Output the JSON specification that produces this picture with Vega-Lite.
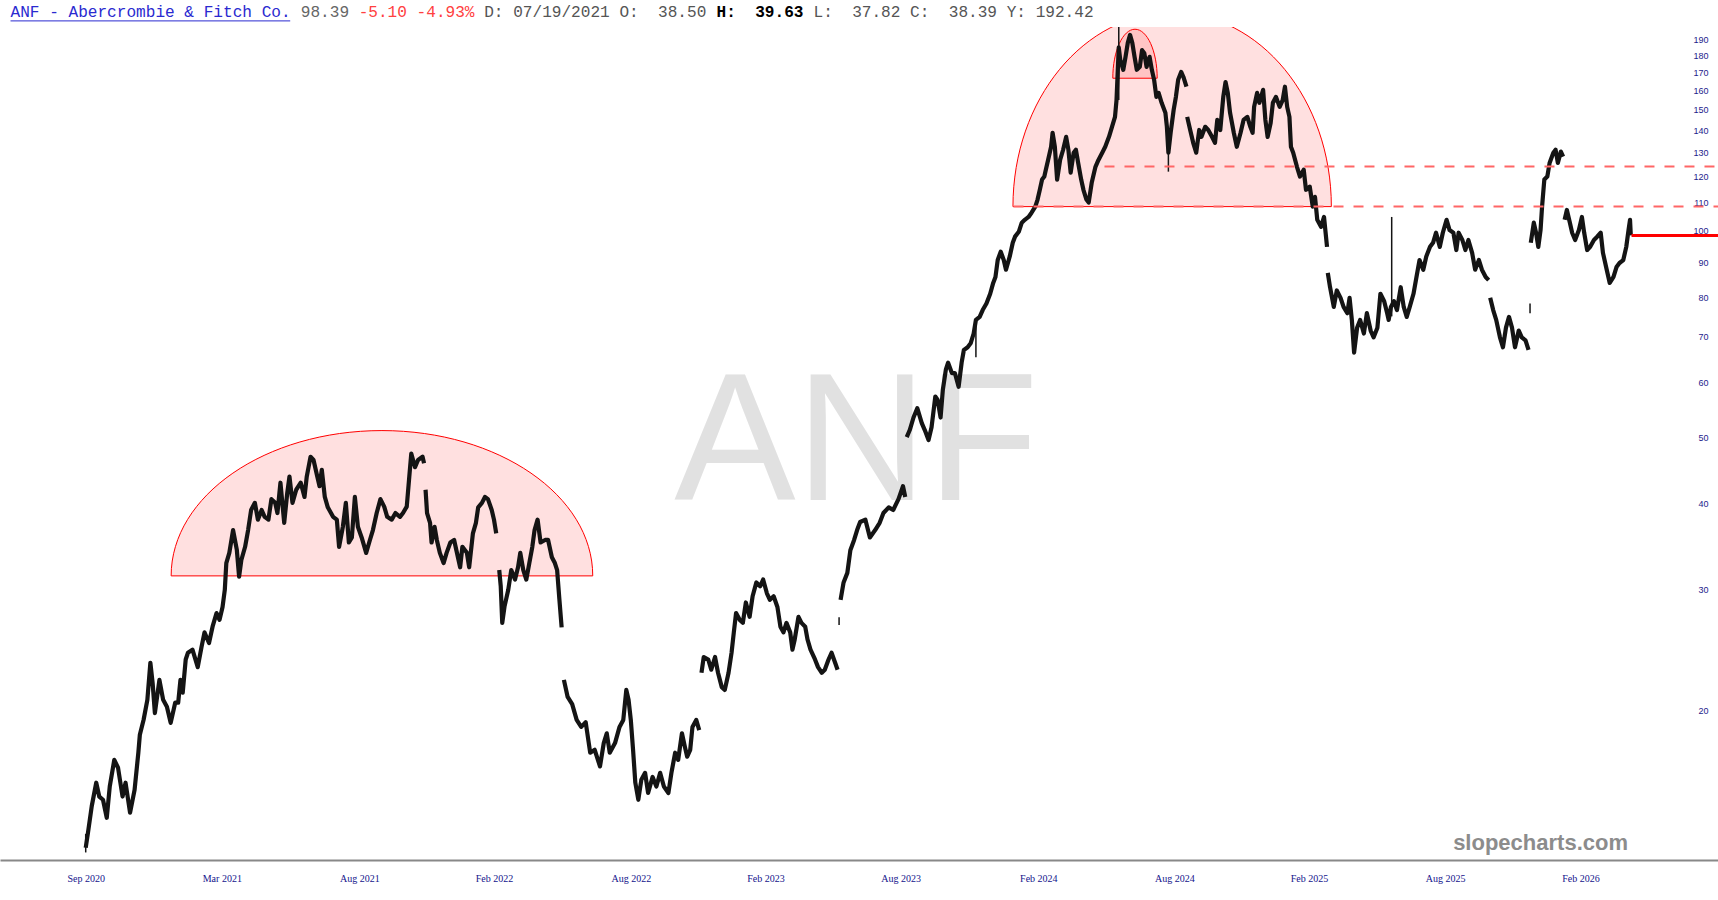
{
  "$schema": "https://vega.github.io/schema/vega-lite/v6.json",
  "width": 1718,
  "height": 833,
  "autosize": {"type": "none"},
  "padding": {"top": 27, "left": 0, "right": 0, "bottom": 40},
  "background": "white",
  "config": {"view": {"stroke": null}, "axis": {"grid": false}},
  "datasets": {
    "px": [
      {"d":"2020-09-01","p":12.6,"g":1},{"d":"2020-09-04","p":13.25,"g":1},{"d":"2020-09-09","p":14.48,"g":1},{"d":"2020-09-15","p":15.67,"g":1},{"d":"2020-09-19","p":14.96,"g":1},{"d":"2020-09-24","p":14.8,"g":1},{"d":"2020-09-29","p":13.93,"g":1},{"d":"2020-10-03","p":15.48,"g":1},{"d":"2020-10-09","p":16.92,"g":1},{"d":"2020-10-14","p":16.48,"g":1},{"d":"2020-10-20","p":14.96,"g":1},{"d":"2020-10-24","p":15.67,"g":1},{"d":"2020-10-30","p":14.17,"g":1},{"d":"2020-11-05","p":15.3,"g":1},{"d":"2020-11-10","p":17.33,"g":1},{"d":"2020-11-12","p":18.41,"g":1},{"d":"2020-11-17","p":19.36,"g":1},{"d":"2020-11-22","p":20.7,"g":1},{"d":"2020-11-26","p":23.44,"g":1},{"d":"2020-11-29","p":21.9,"g":1},{"d":"2020-12-02","p":19.8,"g":1},{"d":"2020-12-08","p":22.13,"g":1},{"d":"2020-12-13","p":20.7,"g":1},{"d":"2020-12-18","p":20.22,"g":1},{"d":"2020-12-23","p":19.16,"g":1},{"d":"2020-12-29","p":20.5,"g":1},
      {"d":"2021-01-02","p":20.5,"g":1},{"d":"2021-01-05","p":22.13,"g":1},{"d":"2021-01-08","p":21.2,"g":1},{"d":"2021-01-12","p":23.7,"g":1},{"d":"2021-01-15","p":24.24,"g":1},{"d":"2021-01-21","p":24.5,"g":1},{"d":"2021-01-28","p":23.1,"g":1},{"d":"2021-02-02","p":24.7,"g":1},{"d":"2021-02-06","p":25.96,"g":1},{"d":"2021-02-12","p":25.05,"g":1},{"d":"2021-02-17","p":26.54,"g":1},{"d":"2021-02-22","p":27.7,"g":1},{"d":"2021-02-26","p":27.07,"g":1},{"d":"2021-03-02","p":28.27,"g":1},{"d":"2021-03-05","p":29.95,"g":1},{"d":"2021-03-07","p":32.76,"g":1},{"d":"2021-03-11","p":33.9,"g":1},{"d":"2021-03-16","p":36.6,"g":1},{"d":"2021-03-21","p":34.23,"g":1},{"d":"2021-03-24","p":31.3,"g":1},{"d":"2021-03-27","p":33.1,"g":1},{"d":"2021-04-01","p":34.6,"g":1},{"d":"2021-04-05","p":36.6,"g":1},{"d":"2021-04-09","p":39.15,"g":1},{"d":"2021-04-14","p":40.1,"g":1},{"d":"2021-04-18","p":37.9,"g":1},{"d":"2021-04-23","p":39.15,"g":1},{"d":"2021-04-27","p":38.26,"g":1},{"d":"2021-05-02","p":37.9,"g":1},{"d":"2021-05-06","p":40.6,"g":1},{"d":"2021-05-11","p":40.1,"g":1},{"d":"2021-05-14","p":38.75,"g":1},{"d":"2021-05-18","p":42.9,"g":1},{"d":"2021-05-23","p":37.5,"g":1},{"d":"2021-05-27","p":41.4,"g":1},{"d":"2021-05-30","p":43.8,"g":1},{"d":"2021-06-03","p":40.1,"g":1},{"d":"2021-06-08","p":41.9,"g":1},{"d":"2021-06-14","p":42.9,"g":1},{"d":"2021-06-19","p":40.9,"g":1},{"d":"2021-06-22","p":43.8,"g":1},{"d":"2021-06-27","p":46.8,"g":1},{"d":"2021-07-01","p":46.3,"g":1},{"d":"2021-07-06","p":43.8,"g":1},{"d":"2021-07-09","p":42.4,"g":1},{"d":"2021-07-12","p":44.8,"g":1},{"d":"2021-07-16","p":40.9,"g":1},{"d":"2021-07-20","p":39.5,"g":1},{"d":"2021-07-27","p":38.26,"g":1},{"d":"2021-08-01","p":37.9,"g":1},{"d":"2021-08-04","p":34.6,"g":1},{"d":"2021-08-09","p":37.0,"g":1},{"d":"2021-08-13","p":40.1,"g":1},{"d":"2021-08-17","p":35.1,"g":1},{"d":"2021-08-21","p":35.7,"g":1},{"d":"2021-08-25","p":40.9,"g":1},{"d":"2021-08-29","p":37.0,"g":1},{"d":"2021-09-03","p":35.7,"g":1},{"d":"2021-09-09","p":33.9,"g":1},{"d":"2021-09-14","p":35.4,"g":1},{"d":"2021-09-18","p":36.6,"g":1},{"d":"2021-09-23","p":38.75,"g":1},{"d":"2021-09-28","p":40.6,"g":1},{"d":"2021-10-03","p":39.6,"g":1},{"d":"2021-10-07","p":38.26,"g":1},{"d":"2021-10-13","p":37.9,"g":1},{"d":"2021-10-18","p":38.75,"g":1},{"d":"2021-10-24","p":38.26,"g":1},{"d":"2021-10-28","p":38.75,"g":1},{"d":"2021-11-02","p":39.6,"g":1},{"d":"2021-11-05","p":43.3,"g":1},{"d":"2021-11-08","p":47.3,"g":1},{"d":"2021-11-13","p":45.2,"g":1},{"d":"2021-11-17","p":46.3,"g":1},{"d":"2021-11-23","p":46.8,"g":1},{"d":"2021-11-25","p":45.8,"g":1},
      {"d":"2021-11-27","p":41.9,"g":2},{"d":"2021-11-29","p":38.75,"g":2},{"d":"2021-12-03","p":37.5,"g":2},{"d":"2021-12-05","p":35.1,"g":2},{"d":"2021-12-09","p":37.0,"g":2},{"d":"2021-12-12","p":35.4,"g":2},{"d":"2021-12-16","p":33.9,"g":2},{"d":"2021-12-21","p":32.76,"g":2},{"d":"2021-12-25","p":33.9,"g":2},{"d":"2021-12-30","p":35.1,"g":2},{"d":"2022-01-04","p":35.4,"g":2},{"d":"2022-01-07","p":34.2,"g":2},{"d":"2022-01-12","p":32.3,"g":2},{"d":"2022-01-15","p":34.6,"g":2},{"d":"2022-01-21","p":33.9,"g":2},{"d":"2022-01-24","p":32.3,"g":2},{"d":"2022-01-29","p":36.2,"g":2},{"d":"2022-02-02","p":37.5,"g":2},{"d":"2022-02-05","p":39.5,"g":2},{"d":"2022-02-10","p":40.1,"g":2},{"d":"2022-02-14","p":40.9,"g":2},{"d":"2022-02-18","p":40.6,"g":2},{"d":"2022-02-23","p":39.15,"g":2},{"d":"2022-02-26","p":37.9,"g":2},{"d":"2022-03-01","p":36.2,"g":2},
      {"d":"2022-03-05","p":32.0,"g":3},{"d":"2022-03-07","p":30.3,"g":3},{"d":"2022-03-09","p":26.8,"g":3},{"d":"2022-03-12","p":28.3,"g":3},{"d":"2022-03-17","p":29.95,"g":3},{"d":"2022-03-21","p":32.0,"g":3},{"d":"2022-03-26","p":31.0,"g":3},{"d":"2022-03-30","p":32.3,"g":3},{"d":"2022-04-02","p":33.9,"g":3},{"d":"2022-04-06","p":32.0,"g":3},{"d":"2022-04-10","p":31.0,"g":3},{"d":"2022-04-14","p":32.76,"g":3},{"d":"2022-04-18","p":34.6,"g":3},{"d":"2022-04-21","p":36.6,"g":3},{"d":"2022-04-25","p":37.9,"g":3},{"d":"2022-04-29","p":35.1,"g":3},{"d":"2022-05-05","p":35.4,"g":3},{"d":"2022-05-09","p":35.4,"g":3},{"d":"2022-05-14","p":33.4,"g":3},{"d":"2022-05-18","p":32.76,"g":3},{"d":"2022-05-21","p":32.0,"g":3},{"d":"2022-05-24","p":29.0,"g":3},{"d":"2022-05-27","p":26.4,"g":3},
      {"d":"2022-05-30","p":22.13,"g":4},{"d":"2022-06-04","p":20.9,"g":4},{"d":"2022-06-10","p":20.4,"g":4},{"d":"2022-06-16","p":19.35,"g":4},{"d":"2022-06-22","p":18.9,"g":4},{"d":"2022-06-28","p":19.2,"g":4},{"d":"2022-07-04","p":17.33,"g":4},{"d":"2022-07-10","p":17.5,"g":4},{"d":"2022-07-17","p":16.55,"g":4},{"d":"2022-07-22","p":17.9,"g":4},{"d":"2022-07-26","p":18.5,"g":4},{"d":"2022-07-30","p":17.33,"g":4},{"d":"2022-08-06","p":17.9,"g":4},{"d":"2022-08-12","p":18.9,"g":4},{"d":"2022-08-17","p":19.35,"g":4},{"d":"2022-08-21","p":21.4,"g":4},{"d":"2022-08-24","p":20.7,"g":4},{"d":"2022-08-27","p":19.35,"g":4},{"d":"2022-08-30","p":17.5,"g":4},{"d":"2022-09-02","p":15.67,"g":4},{"d":"2022-09-06","p":14.8,"g":4},{"d":"2022-09-10","p":15.83,"g":4},{"d":"2022-09-15","p":16.2,"g":4},{"d":"2022-09-19","p":15.14,"g":4},{"d":"2022-09-25","p":15.98,"g":4},{"d":"2022-09-30","p":15.47,"g":4},{"d":"2022-10-05","p":16.2,"g":4},{"d":"2022-10-10","p":15.47,"g":4},{"d":"2022-10-16","p":15.14,"g":4},{"d":"2022-10-20","p":16.2,"g":4},{"d":"2022-10-25","p":17.33,"g":4},{"d":"2022-10-29","p":16.92,"g":4},{"d":"2022-11-03","p":18.5,"g":4},{"d":"2022-11-07","p":17.66,"g":4},{"d":"2022-11-10","p":17.1,"g":4},{"d":"2022-11-14","p":17.5,"g":4},{"d":"2022-11-17","p":18.9,"g":4},{"d":"2022-11-22","p":19.35,"g":4},{"d":"2022-11-26","p":18.7,"g":4},
      {"d":"2022-11-29","p":22.67,"g":5},{"d":"2022-12-02","p":23.9,"g":5},{"d":"2022-12-08","p":23.7,"g":5},{"d":"2022-12-12","p":22.9,"g":5},{"d":"2022-12-17","p":23.9,"g":5},{"d":"2022-12-21","p":22.67,"g":5},{"d":"2022-12-26","p":21.6,"g":5},{"d":"2022-12-30","p":21.4,"g":5},{"d":"2023-01-04","p":22.67,"g":5},{"d":"2023-01-08","p":24.24,"g":5},{"d":"2023-01-11","p":25.96,"g":5},{"d":"2023-01-14","p":27.7,"g":5},{"d":"2023-01-19","p":27.07,"g":5},{"d":"2023-01-23","p":26.8,"g":5},{"d":"2023-01-27","p":28.7,"g":5},{"d":"2023-02-01","p":27.35,"g":5},{"d":"2023-02-05","p":29.3,"g":5},{"d":"2023-02-10","p":30.7,"g":5},{"d":"2023-02-15","p":30.3,"g":5},{"d":"2023-02-19","p":31.0,"g":5},{"d":"2023-02-24","p":29.6,"g":5},{"d":"2023-02-28","p":28.96,"g":5},{"d":"2023-03-05","p":29.3,"g":5},{"d":"2023-03-10","p":28.27,"g":5},{"d":"2023-03-14","p":26.45,"g":5},{"d":"2023-03-18","p":25.96,"g":5},{"d":"2023-03-22","p":26.8,"g":5},{"d":"2023-03-27","p":25.96,"g":5},{"d":"2023-03-30","p":24.5,"g":5},{"d":"2023-04-02","p":25.35,"g":5},{"d":"2023-04-07","p":27.35,"g":5},{"d":"2023-04-11","p":26.8,"g":5},{"d":"2023-04-16","p":26.45,"g":5},{"d":"2023-04-19","p":25.35,"g":5},{"d":"2023-04-23","p":24.5,"g":5},{"d":"2023-04-29","p":23.7,"g":5},{"d":"2023-05-03","p":23.1,"g":5},{"d":"2023-05-08","p":22.67,"g":5},{"d":"2023-05-12","p":22.9,"g":5},{"d":"2023-05-17","p":23.7,"g":5},{"d":"2023-05-21","p":24.24,"g":5},{"d":"2023-05-26","p":23.4,"g":5},{"d":"2023-05-29","p":22.9,"g":5},
      {"d":"2023-06-02","p":28.96,"g":6},{"d":"2023-06-06","p":30.7,"g":6},{"d":"2023-06-11","p":31.7,"g":6},{"d":"2023-06-15","p":34.2,"g":6},{"d":"2023-06-20","p":35.4,"g":6},{"d":"2023-06-24","p":36.6,"g":6},{"d":"2023-06-28","p":37.6,"g":6},{"d":"2023-07-05","p":37.9,"g":6},{"d":"2023-07-11","p":35.7,"g":6},{"d":"2023-07-18","p":36.6,"g":6},{"d":"2023-07-24","p":37.5,"g":6},{"d":"2023-07-29","p":38.75,"g":6},{"d":"2023-08-05","p":39.5,"g":6},{"d":"2023-08-11","p":39.15,"g":6},{"d":"2023-08-18","p":40.6,"g":6},{"d":"2023-08-24","p":42.4,"g":6},{"d":"2023-08-27","p":40.9,"g":6},
      {"d":"2023-08-29","p":50.0,"g":7},{"d":"2023-09-02","p":51.2,"g":7},{"d":"2023-09-07","p":53.4,"g":7},{"d":"2023-09-12","p":55.1,"g":7},{"d":"2023-09-18","p":52.4,"g":7},{"d":"2023-09-22","p":51.2,"g":7},{"d":"2023-09-27","p":49.5,"g":7},{"d":"2023-10-01","p":51.7,"g":7},{"d":"2023-10-06","p":57.3,"g":7},{"d":"2023-10-09","p":56.7,"g":7},{"d":"2023-10-13","p":53.4,"g":7},{"d":"2023-10-16","p":58.6,"g":7},{"d":"2023-10-20","p":62.7,"g":7},{"d":"2023-10-23","p":64.2,"g":7},{"d":"2023-10-28","p":62.0,"g":7},{"d":"2023-11-01","p":62.0,"g":7},{"d":"2023-11-06","p":59.2,"g":7},{"d":"2023-11-10","p":64.2,"g":7},{"d":"2023-11-13","p":67.0,"g":7},{"d":"2023-11-18","p":67.6,"g":7},{"d":"2023-11-22","p":68.5,"g":7},{"d":"2023-11-26","p":70.8,"g":7},{"d":"2023-11-29","p":74.1,"g":7},{"d":"2023-12-04","p":74.85,"g":7},{"d":"2023-12-08","p":76.6,"g":7},{"d":"2023-12-13","p":78.3,"g":7},{"d":"2023-12-18","p":80.9,"g":7},{"d":"2023-12-22","p":83.9,"g":7},{"d":"2023-12-25","p":85.6,"g":7},{"d":"2023-12-28","p":90.6,"g":7},{"d":"2024-01-01","p":93.2,"g":7},{"d":"2024-01-05","p":90.6,"g":7},{"d":"2024-01-08","p":87.7,"g":7},{"d":"2024-01-13","p":91.7,"g":7},{"d":"2024-01-17","p":96.0,"g":7},{"d":"2024-01-20","p":98.0,"g":7},{"d":"2024-01-25","p":99.6,"g":7},{"d":"2024-01-29","p":102.7,"g":7},{"d":"2024-02-02","p":103.7,"g":7},{"d":"2024-02-07","p":104.7,"g":7},{"d":"2024-02-11","p":106.2,"g":7},{"d":"2024-02-16","p":108.4,"g":7},{"d":"2024-02-19","p":111.0,"g":7},{"d":"2024-02-22","p":114.7,"g":7},{"d":"2024-02-25","p":118.7,"g":7},{"d":"2024-02-28","p":119.9,"g":7},{"d":"2024-03-01","p":122.7,"g":7},{"d":"2024-03-04","p":126.8,"g":7},{"d":"2024-03-08","p":132.5,"g":7},{"d":"2024-03-10","p":138.9,"g":7},{"d":"2024-03-13","p":132.5,"g":7},{"d":"2024-03-16","p":118.7,"g":7},{"d":"2024-03-20","p":126.8,"g":7},{"d":"2024-03-24","p":131.2,"g":7},{"d":"2024-03-28","p":137.0,"g":7},{"d":"2024-03-31","p":131.2,"g":7},{"d":"2024-04-03","p":121.5,"g":7},{"d":"2024-04-07","p":129.9,"g":7},{"d":"2024-04-10","p":131.2,"g":7},{"d":"2024-04-13","p":125.5,"g":7},{"d":"2024-04-17","p":118.7,"g":7},{"d":"2024-04-20","p":114.7,"g":7},{"d":"2024-04-24","p":111.0,"g":7},{"d":"2024-04-27","p":109.9,"g":7},{"d":"2024-05-01","p":117.4,"g":7},{"d":"2024-05-06","p":123.9,"g":7},{"d":"2024-05-10","p":126.8,"g":7},{"d":"2024-05-15","p":129.9,"g":7},{"d":"2024-05-19","p":132.5,"g":7},{"d":"2024-05-24","p":137.0,"g":7},{"d":"2024-05-28","p":141.7,"g":7},{"d":"2024-06-01","p":146.5,"g":7},{"d":"2024-06-03","p":155.0,"g":7},{"d":"2024-06-06","p":185,"g":7},{"d":"2024-06-08","p":177.4,"g":7},{"d":"2024-06-12","p":171.6,"g":7},{"d":"2024-06-15","p":179.2,"g":7},{"d":"2024-06-18","p":187.8,"g":7},{"d":"2024-06-21","p":192.9,"g":7},{"d":"2024-06-24","p":187.8,"g":7},{"d":"2024-06-27","p":179.2,"g":7},{"d":"2024-06-30","p":171.6,"g":7},{"d":"2024-07-04","p":173.3,"g":7},{"d":"2024-07-07","p":183.3,"g":7},{"d":"2024-07-10","p":181.4,"g":7},{"d":"2024-07-13","p":173.3,"g":7},{"d":"2024-07-17","p":179.2,"g":7},{"d":"2024-07-20","p":171.6,"g":7},{"d":"2024-07-23","p":165.9,"g":7},{"d":"2024-07-26","p":156.7,"g":7},{"d":"2024-07-29","p":158.8,"g":7},{"d":"2024-08-02","p":153.6,"g":7},{"d":"2024-08-07","p":148.6,"g":7},{"d":"2024-08-09","p":141.7,"g":7},{"d":"2024-08-11","p":129.9,"g":7},{"d":"2024-08-14","p":138.9,"g":7},{"d":"2024-08-18","p":150.0,"g":7},{"d":"2024-08-21","p":156.7,"g":7},{"d":"2024-08-24","p":165.9,"g":7},{"d":"2024-08-28","p":170.4,"g":7},{"d":"2024-08-31","p":167.5,"g":7},{"d":"2024-09-04","p":162.1,"g":7},
      {"d":"2024-09-05","p":146.5,"g":8},{"d":"2024-09-09","p":140.2,"g":8},{"d":"2024-09-13","p":134.3,"g":8},{"d":"2024-09-17","p":129.9,"g":8},{"d":"2024-09-21","p":140.2,"g":8},{"d":"2024-09-24","p":137.0,"g":8},{"d":"2024-09-29","p":141.7,"g":8},{"d":"2024-10-03","p":140.2,"g":8},{"d":"2024-10-08","p":137.0,"g":8},{"d":"2024-10-12","p":134.3,"g":8},{"d":"2024-10-15","p":145.0,"g":8},{"d":"2024-10-19","p":140.2,"g":8},{"d":"2024-10-23","p":156.7,"g":8},{"d":"2024-10-26","p":164.7,"g":8},{"d":"2024-10-29","p":158.8,"g":8},{"d":"2024-11-01","p":148.6,"g":8},{"d":"2024-11-06","p":138.9,"g":8},{"d":"2024-11-10","p":132.5,"g":8},{"d":"2024-11-15","p":138.9,"g":8},{"d":"2024-11-19","p":145.0,"g":8},{"d":"2024-11-24","p":146.5,"g":8},{"d":"2024-11-28","p":141.7,"g":8},{"d":"2024-12-01","p":138.9,"g":8},{"d":"2024-12-03","p":151.5,"g":8},{"d":"2024-12-07","p":158.8,"g":8},{"d":"2024-12-10","p":153.6,"g":8},{"d":"2024-12-15","p":160.4,"g":8},{"d":"2024-12-18","p":145.0,"g":8},{"d":"2024-12-21","p":137.0,"g":8},{"d":"2024-12-25","p":143.5,"g":8},{"d":"2024-12-28","p":153.6,"g":8},{"d":"2025-01-01","p":156.7,"g":8},{"d":"2025-01-06","p":151.5,"g":8},{"d":"2025-01-10","p":155.0,"g":8},{"d":"2025-01-13","p":162.1,"g":8},{"d":"2025-01-16","p":151.5,"g":8},{"d":"2025-01-19","p":146.5,"g":8},{"d":"2025-01-21","p":132.5,"g":8},{"d":"2025-01-24","p":129.9,"g":8},{"d":"2025-01-29","p":123.9,"g":8},{"d":"2025-02-02","p":119.9,"g":8},{"d":"2025-02-07","p":122.7,"g":8},{"d":"2025-02-10","p":114.7,"g":8},{"d":"2025-02-15","p":115.9,"g":8},{"d":"2025-02-19","p":108.4,"g":8},{"d":"2025-02-22","p":112.0,"g":8},{"d":"2025-02-25","p":103.7,"g":8},{"d":"2025-03-02","p":101.3,"g":8},{"d":"2025-03-06","p":104.7,"g":8},{"d":"2025-03-10","p":94.7,"g":8},
      {"d":"2025-03-11","p":86.8,"g":9},{"d":"2025-03-14","p":82.7,"g":9},{"d":"2025-03-19","p":77.4,"g":9},{"d":"2025-03-23","p":81.8,"g":9},{"d":"2025-03-28","p":79.8,"g":9},{"d":"2025-04-01","p":77.4,"g":9},{"d":"2025-04-06","p":75.8,"g":9},{"d":"2025-04-09","p":79.8,"g":9},{"d":"2025-04-12","p":74.1,"g":9},{"d":"2025-04-15","p":66.4,"g":9},{"d":"2025-04-19","p":72.2,"g":9},{"d":"2025-04-23","p":74.1,"g":9},{"d":"2025-04-28","p":70.8,"g":9},{"d":"2025-05-02","p":75.8,"g":9},{"d":"2025-05-07","p":71.5,"g":9},{"d":"2025-05-11","p":69.9,"g":9},{"d":"2025-05-16","p":72.2,"g":9},{"d":"2025-05-20","p":80.9,"g":9},{"d":"2025-05-25","p":78.9,"g":9},{"d":"2025-05-29","p":75.8,"g":9},{"d":"2025-05-31","p":74.1,"g":9},{"d":"2025-06-03","p":77.4,"g":9},{"d":"2025-06-07","p":78.9,"g":9},{"d":"2025-06-11","p":76.6,"g":9},{"d":"2025-06-16","p":82.7,"g":9},{"d":"2025-06-20","p":77.4,"g":9},{"d":"2025-06-24","p":74.85,"g":9},{"d":"2025-06-28","p":77.4,"g":9},{"d":"2025-07-03","p":80.9,"g":9},{"d":"2025-07-07","p":85.6,"g":9},{"d":"2025-07-11","p":90.6,"g":9},{"d":"2025-07-16","p":87.7,"g":9},{"d":"2025-07-20","p":91.7,"g":9},{"d":"2025-07-25","p":94.7,"g":9},{"d":"2025-07-29","p":96.0,"g":9},{"d":"2025-08-02","p":99.3,"g":9},{"d":"2025-08-07","p":94.7,"g":9},{"d":"2025-08-11","p":99.3,"g":9},{"d":"2025-08-16","p":103.7,"g":9},{"d":"2025-08-20","p":100.2,"g":9},{"d":"2025-08-25","p":99.3,"g":9},{"d":"2025-08-29","p":93.7,"g":9},{"d":"2025-09-01","p":99.3,"g":9},{"d":"2025-09-06","p":96.9,"g":9},{"d":"2025-09-10","p":93.7,"g":9},{"d":"2025-09-14","p":96.9,"g":9},{"d":"2025-09-19","p":92.8,"g":9},{"d":"2025-09-23","p":87.7,"g":9},{"d":"2025-09-28","p":90.6,"g":9},{"d":"2025-10-02","p":87.7,"g":9},{"d":"2025-10-07","p":85.6,"g":9},{"d":"2025-10-11","p":84.7,"g":9},
      {"d":"2025-10-13","p":79.8,"g":10},{"d":"2025-10-17","p":76.6,"g":10},{"d":"2025-10-21","p":74.1,"g":10},{"d":"2025-10-26","p":69.9,"g":10},{"d":"2025-10-30","p":67.6,"g":10},{"d":"2025-11-03","p":72.2,"g":10},{"d":"2025-11-07","p":74.85,"g":10},{"d":"2025-11-11","p":72.2,"g":10},{"d":"2025-11-15","p":67.6,"g":10},{"d":"2025-11-20","p":71.5,"g":10},{"d":"2025-11-24","p":69.9,"g":10},{"d":"2025-11-29","p":69.2,"g":10},{"d":"2025-12-03","p":67.0,"g":10},
      {"d":"2025-12-06","p":96.0,"g":11},{"d":"2025-12-10","p":102.7,"g":11},{"d":"2025-12-13","p":99.3,"g":11},{"d":"2025-12-16","p":94.7,"g":11},{"d":"2025-12-19","p":100.2,"g":11},{"d":"2025-12-21","p":108.4,"g":11},{"d":"2025-12-24","p":118.7,"g":11},{"d":"2025-12-28","p":119.9,"g":11},{"d":"2025-12-31","p":125.5,"g":11},{"d":"2026-01-05","p":129.9,"g":11},{"d":"2026-01-08","p":131.2,"g":11},{"d":"2026-01-11","p":125.5,"g":11},{"d":"2026-01-15","p":130.4,"g":11},{"d":"2026-01-18","p":128.2,"g":11},
      {"d":"2026-01-20","p":103.7,"g":12},{"d":"2026-01-23","p":107.2,"g":12},{"d":"2026-01-27","p":102.7,"g":12},{"d":"2026-01-30","p":99.3,"g":12},{"d":"2026-02-03","p":96.9,"g":12},{"d":"2026-02-08","p":100.2,"g":12},{"d":"2026-02-12","p":104.7,"g":12},{"d":"2026-02-15","p":99.3,"g":12},{"d":"2026-02-19","p":93.7,"g":12},{"d":"2026-02-23","p":94.7,"g":12},{"d":"2026-02-28","p":96.9,"g":12},{"d":"2026-03-04","p":97.9,"g":12},{"d":"2026-03-09","p":99.3,"g":12},{"d":"2026-03-12","p":92.8,"g":12},{"d":"2026-03-17","p":87.7,"g":12},{"d":"2026-03-21","p":83.9,"g":12},{"d":"2026-03-26","p":85.6,"g":12},{"d":"2026-03-30","p":88.5,"g":12},{"d":"2026-04-03","p":89.7,"g":12},{"d":"2026-04-08","p":90.6,"g":12},{"d":"2026-04-12","p":94.7,"g":12},{"d":"2026-04-15","p":100.2,"g":12},{"d":"2026-04-17","p":103.7,"g":12},{"d":"2026-04-18","p":98.4,"g":12}
    ],
    "wicks": [
      {"d":"2020-09-01","lo":12.4,"hi":13.2},
      {"d":"2023-05-31","lo":26.6,"hi":27.3},
      {"d":"2023-11-29","lo":65.4,"hi":74},
      {"d":"2024-06-06","lo":155,"hi":199},
      {"d":"2024-08-11","lo":121.9,"hi":130},
      {"d":"2025-06-04","lo":75,"hi":104.7},
      {"d":"2025-12-05","lo":75.8,"hi":78.3}
    ]
  },
  "layer": [
    {
      "data": {"values": [{}]},
      "mark": {"type": "text", "text": "ANF", "font": "Liberation Sans", "fontSize": 182, "color": "#e1e1e1", "align": "center", "baseline": "alphabetic"},
      "encoding": {
        "x": {"datum": {"year": 2023, "month": "Jun", "date": 23, "utc": true}, "type": "temporal"},
        "y": {"datum": 40.49, "type": "quantitative"}
      }
    },
    {
      "data": {"values": [{}]},
      "mark": {"type": "point", "shape": "M-1,0C-1,-0.3807,-0.5523,-0.6893,0,-0.6893C0.5523,-0.6893,1,-0.3807,1,0Z", "filled": true, "fill": "#ff0000", "fillOpacity": 0.12, "stroke": "#ff0000", "strokeWidth": 1, "strokeOpacity": 1, "opacity": 1, "clip": true},
      "encoding": {
        "x": {"datum": {"year": 2021, "month": "Sep", "date": 30, "utc": true}, "type": "temporal"},
        "y": {"datum": 31.38, "type": "quantitative"},
        "size": {"value": 177747}
      }
    },
    {
      "data": {"values": [{}]},
      "mark": {"type": "point", "shape": "M-1,0C-1,-0.673,-0.5523,-1.2186,0,-1.2186C0.5523,-1.2186,1,-0.673,1,0Z", "filled": true, "fill": "#ff0000", "fillOpacity": 0.12, "stroke": "#ff0000", "strokeWidth": 1, "strokeOpacity": 1, "opacity": 1, "clip": true},
      "encoding": {
        "x": {"datum": {"year": 2024, "month": "Aug", "date": 16, "utc": true}, "type": "temporal"},
        "y": {"datum": 108.4, "type": "quantitative"},
        "size": {"value": 101379}
      }
    },
    {
      "data": {"values": [{}]},
      "mark": {"type": "point", "shape": "M-1,0C-1,-1.2189,-0.5523,-2.207,0,-2.207C0.5523,-2.207,1,-1.2189,1,0Z", "filled": true, "fill": "#ff0000", "fillOpacity": 0.12, "stroke": "#ff0000", "strokeWidth": 1, "strokeOpacity": 1, "opacity": 1, "clip": true},
      "encoding": {
        "x": {"datum": {"year": 2024, "month": "Jun", "date": 27, "hours": 14, "utc": true}, "type": "temporal"},
        "y": {"datum": 166.8, "type": "quantitative"},
        "size": {"value": 1971}
      }
    },
    {
      "data": {"name": "px"},
      "mark": {"type": "line", "color": "#141414", "strokeWidth": 4.2, "strokeJoin": "round", "clip": true},
      "encoding": {
        "x": {
          "field": "d", "type": "temporal",
          "scale": {"type": "utc", "nice": false, "domain": [{"year": 2020, "month": "May", "date": 10, "utc": true}, {"year": 2026, "month": "Aug", "date": 12, "utc": true}]},
          "axis": {
            "orient": "bottom", "title": null, "format": "%b %Y", "grid": false,
            "values": [
              {"year": 2020, "month": "Sep", "date": 1, "utc": true},
              {"year": 2021, "month": "Mar", "date": 1, "utc": true},
              {"year": 2021, "month": "Aug", "date": 31, "utc": true},
              {"year": 2022, "month": "Feb", "date": 26, "utc": true},
              {"year": 2022, "month": "Aug", "date": 27, "utc": true},
              {"year": 2023, "month": "Feb", "date": 22, "utc": true},
              {"year": 2023, "month": "Aug", "date": 21, "utc": true},
              {"year": 2024, "month": "Feb", "date": 20, "utc": true},
              {"year": 2024, "month": "Aug", "date": 19, "utc": true},
              {"year": 2025, "month": "Feb", "date": 14, "utc": true},
              {"year": 2025, "month": "Aug", "date": 14, "utc": true},
              {"year": 2026, "month": "Feb", "date": 10, "utc": true}
            ],
            "ticks": false, "tickSize": 0, "labelPadding": 13,
            "labelFont": "Liberation Serif", "labelFontSize": 10, "labelColor": "#14148c",
            "labelFlush": false, "labelOverlap": false,
            "domain": true, "domainColor": "#888888", "domainWidth": 2
          }
        },
        "y": {
          "field": "p", "type": "quantitative",
          "scale": {"type": "log", "nice": false, "domain": [12.09, 198.1]},
          "axis": {
            "orient": "right", "title": null, "grid": false, "domain": false,
            "values": [20, 30, 40, 50, 60, 70, 80, 90, 100, 110, 120, 130, 140, 150, 160, 170, 180, 190],
            "format": "d", "ticks": false, "tickSize": 0, "labelPadding": -10, "labelAlign": "right",
            "labelFont": "Liberation Sans", "labelFontSize": 9, "labelColor": "#1c1c8c", "labelOverlap": false
          }
        },
        "detail": {"field": "g", "type": "nominal"}
      }
    },
    {
      "data": {"name": "wicks"},
      "mark": {"type": "rule", "color": "#141414", "strokeWidth": 1.5, "clip": true},
      "encoding": {
        "x": {"field": "d", "type": "temporal"},
        "y": {"field": "lo", "type": "quantitative"},
        "y2": {"field": "hi"}
      }
    },
    {
      "data": {"values": [{}]},
      "mark": {"type": "rule", "color": "#ff6666", "strokeWidth": 2, "strokeDash": [10, 10]},
      "encoding": {
        "x": {"datum": {"year": 2024, "month": "May", "date": 18, "utc": true}, "type": "temporal"},
        "x2": {"datum": {"year": 2026, "month": "Aug", "date": 12, "utc": true}},
        "y": {"datum": 124, "type": "quantitative"}
      }
    },
    {
      "data": {"values": [{}]},
      "mark": {"type": "rule", "color": "#ff6666", "strokeWidth": 2, "strokeDash": [10, 10]},
      "encoding": {
        "x": {"datum": {"year": 2024, "month": "Jan", "date": 18, "utc": true}, "type": "temporal"},
        "x2": {"datum": {"year": 2026, "month": "Aug", "date": 12, "utc": true}},
        "y": {"datum": 108.4, "type": "quantitative"}
      }
    },
    {
      "data": {"values": [{}]},
      "mark": {"type": "rule", "color": "#ff0000", "strokeWidth": 3},
      "encoding": {
        "x": {"datum": {"year": 2026, "month": "Apr", "date": 19, "utc": true}, "type": "temporal"},
        "x2": {"datum": {"year": 2026, "month": "Aug", "date": 12, "utc": true}},
        "y": {"datum": 98.39, "type": "quantitative"}
      }
    },
    {
      "data": {"values": [{}]},
      "mark": {"type": "text", "text": "slopecharts.com", "font": "Liberation Sans", "fontSize": 22, "fontWeight": "bold", "color": "#8c8c8c", "align": "center", "baseline": "middle"},
      "encoding": {
        "x": {"datum": {"year": 2025, "month": "Dec", "date": 19, "utc": true}, "type": "temporal"},
        "y": {"datum": 12.81, "type": "quantitative"}
      }
    },
    {
      "data": {"values": [{}]},
      "mark": {"type": "text", "text": "ANF - Abercrombie & Fitch Co.", "font": "Liberation Mono", "fontSize": 16.1, "color": "#2a2ad0", "align": "left", "baseline": "middle"},
      "encoding": {
        "x": {"datum": {"year": 2020, "month": "May", "date": 24, "utc": true}, "type": "temporal"},
        "y": {"datum": 208.4, "type": "quantitative"}
      }
    },
    {
      "data": {"values": [{}]},
      "mark": {"type": "rule", "color": "#2a2ad0", "strokeWidth": 1},
      "encoding": {
        "x": {"datum": {"year": 2020, "month": "May", "date": 24, "utc": true}, "type": "temporal"},
        "x2": {"datum": {"year": 2021, "month": "May", "date": 31, "utc": true}},
        "y": {"datum": 202.2, "type": "quantitative"}
      }
    },
    {
      "data": {"values": [{}]},
      "mark": {"type": "text", "text": "98.39", "font": "Liberation Mono", "fontSize": 16.1, "color": "#666666", "align": "left", "baseline": "middle"},
      "encoding": {
        "x": {"datum": {"year": 2021, "month": "Jun", "date": 14, "utc": true}, "type": "temporal"},
        "y": {"datum": 208.4, "type": "quantitative"}
      }
    },
    {
      "data": {"values": [{}]},
      "mark": {"type": "text", "text": "-5.10 -4.93%", "font": "Liberation Mono", "fontSize": 16.1, "color": "#ff4040", "align": "left", "baseline": "middle"},
      "encoding": {
        "x": {"datum": {"year": 2021, "month": "Aug", "date": 30, "utc": true}, "type": "temporal"},
        "y": {"datum": 208.4, "type": "quantitative"}
      }
    },
    {
      "data": {"values": [{}]},
      "mark": {"type": "text", "text": "D: 07/19/2021 O:\u00a0\u00a038.50", "font": "Liberation Mono", "fontSize": 16.1, "color": "#555555", "align": "left", "baseline": "middle"},
      "encoding": {
        "x": {"datum": {"year": 2022, "month": "Feb", "date": 13, "utc": true}, "type": "temporal"},
        "y": {"datum": 208.4, "type": "quantitative"}
      }
    },
    {
      "data": {"values": [{}]},
      "mark": {"type": "text", "text": "H:\u00a0\u00a039.63", "font": "Liberation Mono", "fontSize": 16.1, "fontWeight": "bold", "color": "#000000", "align": "left", "baseline": "middle"},
      "encoding": {
        "x": {"datum": {"year": 2022, "month": "Dec", "date": 19, "utc": true}, "type": "temporal"},
        "y": {"datum": 208.4, "type": "quantitative"}
      }
    },
    {
      "data": {"values": [{}]},
      "mark": {"type": "text", "text": "L:\u00a0\u00a037.82 C:\u00a0\u00a038.39 Y: 192.42", "font": "Liberation Mono", "fontSize": 16.1, "color": "#555555", "align": "left", "baseline": "middle"},
      "encoding": {
        "x": {"datum": {"year": 2023, "month": "Apr", "date": 27, "utc": true}, "type": "temporal"},
        "y": {"datum": 208.4, "type": "quantitative"}
      }
    }
  ]
}
